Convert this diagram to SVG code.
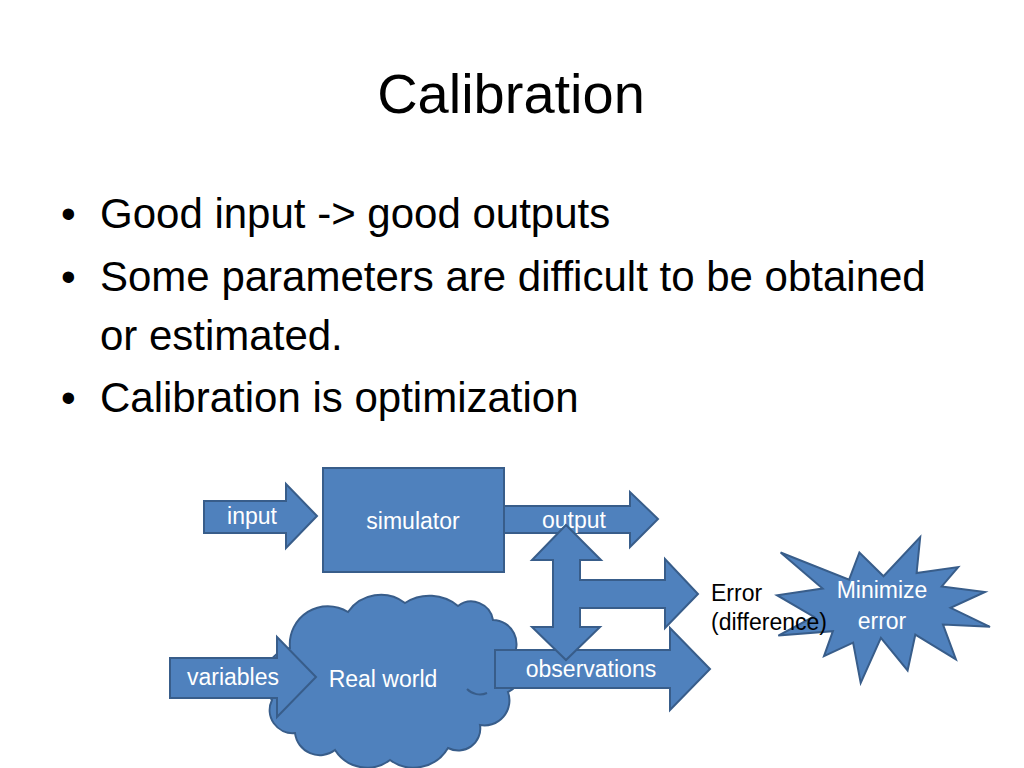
<svg xmlns="http://www.w3.org/2000/svg" width="1024" height="768" viewBox="0 0 1024 768">
  <style>
    .shape { fill: #4F81BD; stroke: #385D8A; stroke-width: 2; stroke-linejoin: miter; }
    .lbl { font-family: "Liberation Sans", Arial, sans-serif; font-size: 23px; fill: #FFFFFF; text-anchor: middle; }
    .blk { font-family: "Liberation Sans", Arial, sans-serif; font-size: 23px; fill: #000000; }
    .title { font-family: "Liberation Sans", Arial, sans-serif; font-size: 56px; fill: #000000; text-anchor: middle; }
    .bullet { font-family: "Liberation Sans", Arial, sans-serif; font-size: 42px; fill: #000000; }
  </style>
  <rect x="0" y="0" width="1024" height="768" fill="#FFFFFF"/>

  <g id="title">
    <text class="title" x="511" y="113">Calibration</text>
  </g>

  <g id="bullets">
    <text class="bullet" x="61" y="228">•</text>
    <text class="bullet" x="100" y="228">Good input -&gt; good outputs</text>
    <text class="bullet" x="61" y="291">•</text>
    <text class="bullet" x="100" y="291">Some parameters are difficult to be obtained</text>
    <text class="bullet" x="100" y="350">or estimated.</text>
    <text class="bullet" x="61" y="412">•</text>
    <text class="bullet" x="100" y="412">Calibration is optimization</text>
  </g>

  <g id="simulator">
    <rect class="shape" x="323" y="468" width="181" height="104"/>
    <text class="lbl" x="413" y="529">simulator</text>
  </g>

  <g id="input">
    <polygon class="shape" points="204,501 286,501 286,484 317,516 286,548 286,533 204,533"/>
    <text class="lbl" x="252" y="524">input</text>
  </g>

  <g id="output">
    <polygon class="shape" points="504,506 630,506 630,492 658,519 630,547 630,533 504,533"/>
    <text class="lbl" x="574" y="528">output</text>
  </g>

  <g id="real-world">
    <path class="shape" d="M 290 648 A 38 38 0 0 1 348 612 A 40 40 0 0 1 405 603 A 45 45 0 0 1 458 606 A 22 22 0 0 1 493 620 A 24 24 0 0 1 512 658 A 20 20 0 0 1 508 692 A 25 25 0 0 1 480 725 A 22 22 0 0 1 448 748 A 40 40 0 0 1 390 760 A 38 38 0 0 1 335 750 A 25 25 0 0 1 295 733 A 23 23 0 0 1 272 700 A 32 32 0 0 1 290 648 Z"/>
    <path d="M 467 689 A 18 18 0 0 0 487 693" fill="none" stroke="#385D8A" stroke-width="2"/>
    <text class="lbl" x="383" y="687">Real world</text>
  </g>

  <g id="variables">
    <polygon class="shape" points="170,658 277,658 277,637 316,677 277,717 277,698 170,698"/>
    <text class="lbl" x="233" y="685">variables</text>
  </g>

  <g id="observations">
    <polygon class="shape" points="495,650 670,650 670,628 710,669 670,710 670,688 495,688"/>
    <text class="lbl" x="591" y="677">observations</text>
  </g>

  <g id="connectors">
    <polygon class="shape" points="566,525 601,560 580,560 580,580 665,580 665,559 698,594 665,628 665,608 580,608 580,627 600,627 566,660 532,627 553,627 553,560 532,560"/>
  </g>

  <g id="minimize-error">
    <polygon class="shape" points="883.5,576.2 920.2,537 916.6,573 958.2,567.1 941.7,586.4 985,592 950.6,607.8 990,626.8 943,624.5 955.9,659.3 915.3,634.7 907.6,670.4 880.9,637.9 860.7,683 853.1,642.6 824,656.1 832.9,631.2 778.3,635.6 813.7,616.6 777,595.2 822.6,588.5 780.6,552.5 849.1,579.7 859.4,552.5"/>
    <text class="lbl" x="882" y="598">Minimize</text>
    <text class="lbl" x="882" y="629">error</text>
  </g>

  <g id="error">
    <text class="blk" x="711" y="601">Error</text>
    <text class="blk" x="711" y="630">(difference)</text>
  </g>
</svg>
